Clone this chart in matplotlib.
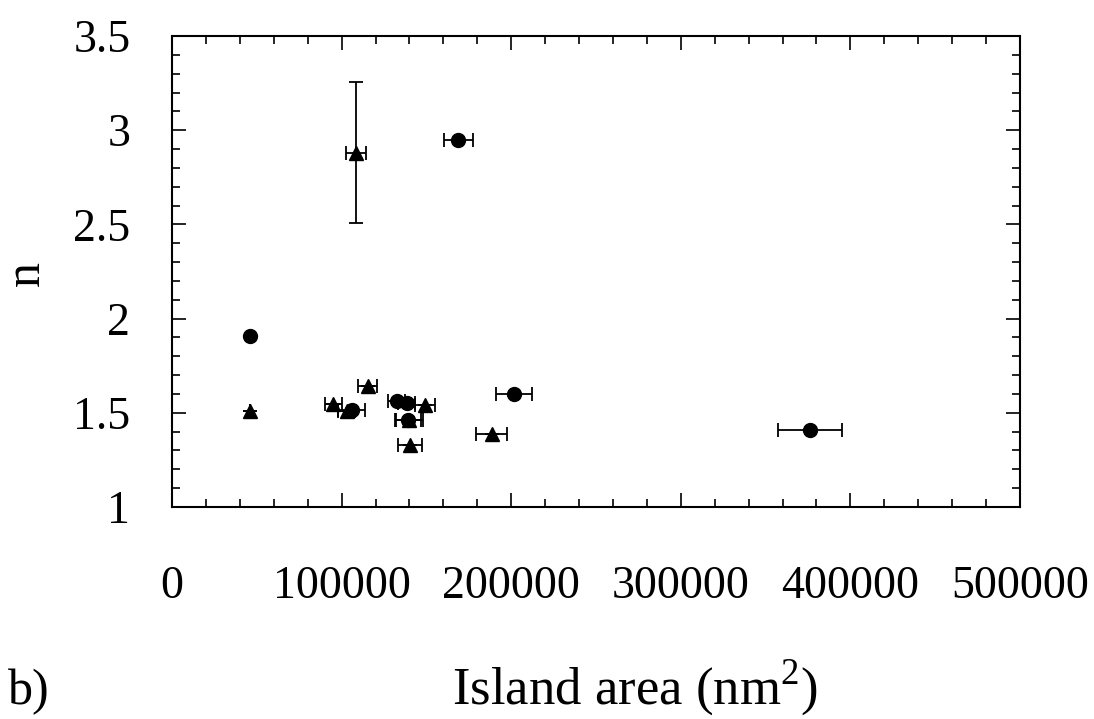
import matplotlib
matplotlib.use("Agg")
import matplotlib.pyplot as plt
from matplotlib.ticker import MultipleLocator

plt.rcParams['font.family'] = ['Liberation Serif', 'DejaVu Serif']
plt.rcParams['mathtext.fontset'] = 'custom'
plt.rcParams['mathtext.rm'] = 'Liberation Serif'

# circles
circ_x = [46000, 106000, 132500, 138500, 139000, 168800, 201600, 376200]
circ_y = [1.91, 1.515, 1.565, 1.55, 1.46, 2.95, 1.60, 1.41]
circ_xerr = [0, 8000, 5000, 5000, 7800, 8400, 10800, 19000]

# triangles
tri_x = [46000, 95000, 103000, 108300, 115400, 149200, 140000, 140300, 188500]
tri_y = [1.51, 1.545, 1.51, 2.88, 1.64, 1.54, 1.46, 1.33, 1.39]
tri_xerr = [0, 5000, 5000, 6000, 5600, 5900, 7800, 7000, 9000]
tri_yerr = [0, 0, 0, 0.375, 0, 0, 0, 0, 0]

fig = plt.figure(figsize=(10.94, 7.19), dpi=100)
ax = fig.add_axes([172/1094, 1-507/719, (1020-172)/1094, (507-36)/719])

ax.errorbar(circ_x, circ_y, xerr=circ_xerr, fmt='o', color='black',
            markersize=10, capsize=5, elinewidth=1.3, capthick=1.3)
ax.errorbar(tri_x, tri_y, xerr=tri_xerr, yerr=tri_yerr, fmt='^', color='black',
            markersize=10, capsize=5, elinewidth=1.3, capthick=1.3)

ax.set_xlim(0, 500000)
ax.set_ylim(1, 3.5)
ax.set_xticks([0, 100000, 200000, 300000, 400000, 500000])
ax.set_yticks([1, 1.5, 2, 2.5, 3, 3.5])
ax.set_yticklabels(['1', '1.5', '2', '2.5', '3', '3.5'])
ax.xaxis.set_minor_locator(MultipleLocator(20000))
ax.yaxis.set_minor_locator(MultipleLocator(0.1))
ax.tick_params(which='both', direction='in', top=True, right=True, width=1.2)
ax.tick_params(which='major', length=10)
ax.tick_params(which='minor', length=6)
ax.tick_params(axis='x', which='major', pad=42, labelsize=33)
ax.tick_params(axis='y', which='major', pad=30, labelsize=33)
for s in ax.spines.values():
    s.set_linewidth(1.5)

fig.text(635/1094, 1-688/719, 'Island area (nm$^2$)', fontsize=38, ha='center', va='center')
fig.text(27/1094, 1-273/719, 'n', fontsize=36, rotation=90, ha='center', va='center')
fig.text(8/1094, 1-692/719, 'b)', fontsize=36, va='center')

fig.savefig('out.png', dpi=100)
